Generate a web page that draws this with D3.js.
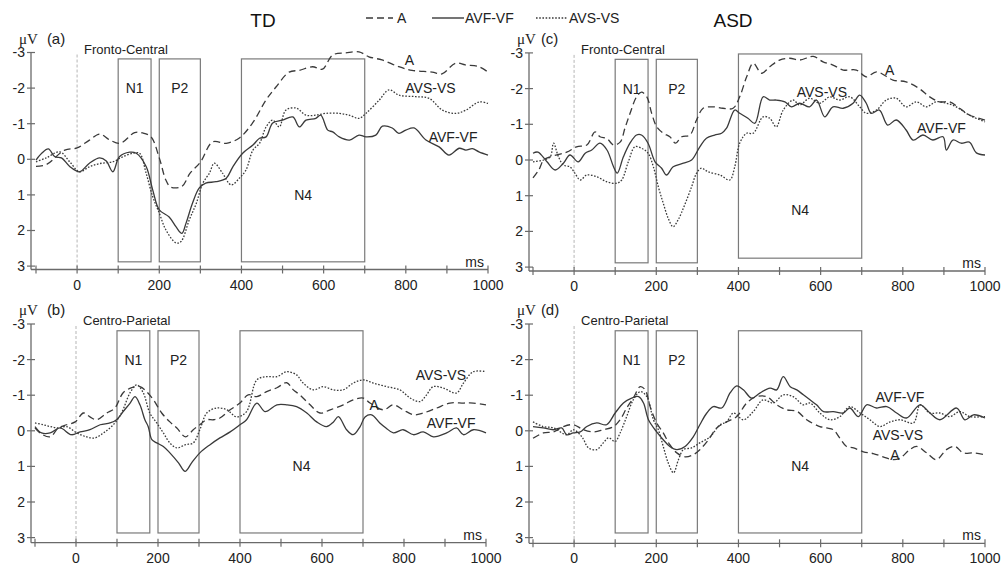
<!DOCTYPE html>
<html>
<head>
<meta charset="utf-8">
<script src="https://cdn.jsdelivr.net/npm/d3@7"></script>
<style>
  body { margin: 0; background: #fff; }
  svg { display: block; font-family: "Liberation Sans", Arial, sans-serif; }
</style>
</head>
<body>
<div id="chart"></div>
<script>
// ERP difference waves, [ms, uV] (negative plotted upward)
// (a) TD fronto-central
var tdFcA = [[-100,0.2],[-75,0.15],[-30,-0.26],[0,-0.32],[30,-0.54],[55,-0.71],[80,-0.54],[105,-0.45],[140,-0.75],[160,-0.74],[180,-0.63],[200,-0.04],[216,0.58],[228,0.78],[255,0.76],[275,0.39],[300,0.08],[330,-0.49],[363,-0.45],[395,-0.6],[427,-1.02],[460,-1.67],[484,-2.03],[516,-2.45],[541,-2.5],[573,-2.6],[597,-2.53],[622,-2.93],[654,-2.99],[686,-3.02],[710,-2.88],[742,-2.79],[783,-2.6],[815,-2.5],[864,-2.45],[888,-2.4],[921,-2.7],[945,-2.65],[978,-2.6],[1000,-2.45]];
var tdFcAVF = [[-100,0.02],[-86,-0.17],[-70,-0.29],[-54,-0.07],[-38,-0.04],[-18,0.2],[6,0.35],[30,0.11],[55,-0.04],[71,0.05],[87,0.35],[103,-0.07],[128,-0.2],[144,-0.17],[168,0.2],[184,0.86],[200,1.42],[224,1.62],[241,1.9],[255,2.08],[265,1.8],[281,1.23],[297,0.81],[313,0.67],[338,0.63],[363,0.53],[379,0.21],[403,-0.17],[428,-0.4],[444,-0.59],[460,-0.63],[476,-1.02],[500,-1.1],[525,-1.19],[541,-0.91],[557,-1.1],[581,-1.15],[593,-1.24],[610,-0.82],[622,-0.77],[638,-0.63],[663,-0.54],[686,-0.68],[703,-0.63],[727,-0.68],[743,-0.93],[767,-0.88],[783,-0.73],[800,-0.82],[820,-0.88],[849,-0.54],[881,-0.35],[905,-0.12],[930,-0.31],[946,-0.26],[962,-0.3],[978,-0.21],[1000,-0.12]];
var tdFcAVS = [[-100,0.07],[-75,-0.04],[-42,-0.21],[-18,0.07],[6,0.35],[30,0.21],[55,0.12],[87,0.07],[111,-0.07],[136,-0.17],[152,-0.17],[168,0.39],[184,1.05],[200,1.51],[216,1.98],[241,2.35],[253,2.31],[273,1.7],[290,1.24],[306,0.67],[322,0.39],[334,0.11],[354,0.39],[375,0.72],[395,0.53],[411,0.3],[428,-0.26],[444,-0.45],[460,-0.91],[476,-1.1],[492,-0.91],[508,-1.38],[533,-1.44],[557,-1.24],[581,-1.24],[605,-1.29],[638,-1.29],[662,-1.24],[686,-1.15],[703,-1.29],[735,-1.66],[759,-1.95],[784,-1.8],[824,-1.76],[857,-1.71],[889,-1.38],[921,-1.29],[946,-1.38],[978,-1.61],[1000,-1.57]];

// (b) TD centro-parietal
var tdCpA = [[-100,-0.08],[-88,0.06],[-63,0.17],[-43,-0.08],[-23,-0.17],[-2,-0.25],[18,-0.5],[34,-0.39],[50,-0.31],[75,-0.5],[95,-0.64],[115,-1.07],[136,-1.21],[156,-1.24],[172,-1.1],[189,-0.87],[209,-0.5],[229,-0.25],[246,-0.08],[267,0.17],[286,-0.03],[302,-0.17],[319,-0.31],[335,-0.31],[351,-0.36],[376,-0.59],[400,-0.78],[420,-1.01],[441,-0.96],[465,-1.1],[490,-1.21],[514,-1.35],[530,-1.15],[546,-1.01],[571,-0.73],[595,-0.5],[620,-0.59],[652,-0.73],[676,-0.87],[701,-0.92],[717,-0.78],[750,-0.59],[774,-0.73],[798,-0.59],[823,-0.45],[847,-0.5],[880,-0.64],[912,-0.78],[945,-0.78],[969,-0.78],[1000,-0.73]];
var tdCpAVF = [[-100,-0.12],[-84,0.06],[-63,0.06],[-39,-0.08],[-11,0.11],[10,0.03],[34,-0.03],[59,-0.17],[83,-0.22],[99,-0.31],[115,-0.54],[132,-0.78],[144,-0.96],[156,-0.73],[168,-0.31],[176,-0.12],[185,0.25],[197,0.34],[213,0.44],[229,0.62],[250,0.9],[266,1.14],[282,0.9],[302,0.62],[327,0.39],[351,0.2],[376,0.03],[400,-0.17],[416,-0.31],[441,-0.78],[461,-0.54],[490,-0.73],[514,-0.73],[538,-0.68],[563,-0.5],[587,-0.25],[611,-0.12],[628,-0.25],[640,-0.4],[660,-0.03],[676,0.11],[693,-0.12],[705,-0.39],[721,-0.45],[741,-0.22],[756,-0.08],[774,0.06],[798,-0.03],[823,0.11],[847,0.03],[872,0.17],[904,0.06],[928,-0.08],[945,0.11],[969,-0.03],[1000,0.06]];
var tdCpAVS = [[-100,-0.22],[-80,-0.17],[-63,-0.12],[-43,-0.08],[-23,-0.12],[2,0.06],[26,0.17],[46,0.2],[67,0.06],[91,-0.17],[111,-0.5],[132,-1.07],[148,-1.29],[164,-1.07],[180,-0.5],[197,-0.22],[213,0.06],[229,0.34],[246,0.48],[267,0.39],[286,0.34],[302,-0.03],[319,-0.5],[343,-0.64],[368,-0.59],[392,-0.39],[416,-0.54],[441,-1.43],[465,-1.52],[490,-1.52],[514,-1.66],[538,-1.57],[554,-1.34],[579,-1.15],[603,-1.24],[628,-1.15],[652,-1.15],[676,-1.34],[701,-1.43],[725,-1.34],[758,-1.24],[790,-1.15],[815,-0.92],[839,-0.82],[855,-1.01],[871,-1.24],[896,-1.2],[928,-1.06],[945,-1.34],[969,-1.66],[1000,-1.66]];

// (c) ASD fronto-central
var asdFcA = [[-100,0.5],[-86,0.28],[-74,0],[-58,-0.09],[-18,-0.22],[6,-0.37],[31,-0.42],[51,-0.79],[63,-0.65],[80,-0.6],[96,-0.42],[112,-0.5],[124,-0.9],[136,-1.3],[152,-1.77],[164,-1.9],[177,-1.77],[189,-1.3],[201,-0.93],[217,-0.75],[233,-0.65],[247,-0.47],[262,-0.65],[282,-0.7],[298,-1.12],[314,-1.45],[338,-1.49],[362,-1.45],[387,-1.45],[403,-1.77],[420,-2.33],[436,-2.71],[456,-2.43],[476,-2.61],[500,-2.8],[525,-2.85],[549,-2.8],[582,-2.9],[606,-2.75],[630,-2.66],[655,-2.52],[687,-2.52],[711,-2.33],[736,-2.47],[776,-2.24],[808,-2.19],[840,-2.0],[865,-1.77],[889,-1.63],[913,-1.63],[938,-1.45],[962,-1.26],[1000,-1.12]];
var asdFcAVF = [[-100,-0.19],[-88,-0.22],[-66,0.05],[-46,0.28],[-26,0.09],[-10,-0.14],[10,0.05],[27,-0.19],[43,-0.28],[63,-0.47],[80,-0.28],[96,0.19],[105,0.37],[120,-0.09],[136,-0.47],[152,-0.7],[164,-0.7],[180,-0.47],[197,0.05],[213,0.23],[225,0.42],[241,0.19],[266,0.09],[286,0],[306,-0.37],[322,-0.61],[342,-0.7],[359,-0.75],[371,-0.89],[391,-1.4],[403,-1.31],[423,-1.17],[440,-1.03],[460,-1.77],[476,-1.68],[492,-1.68],[513,-1.63],[529,-1.49],[549,-1.59],[573,-1.49],[590,-1.68],[610,-1.21],[630,-1.49],[655,-1.45],[679,-1.59],[695,-1.82],[711,-1.59],[723,-1.31],[743,-1.4],[763,-0.98],[784,-1.12],[808,-0.84],[825,-0.56],[849,-0.7],[873,-0.56],[898,-0.65],[906,-0.28],[922,-0.56],[942,-0.47],[962,-0.5],[979,-0.2],[1000,-0.14]];
var asdFcAVS = [[-100,0.05],[-74,0],[-58,-0.09],[-50,-0.47],[-38,-0.09],[-26,0.14],[-10,0.19],[2,0.37],[15,0.56],[31,0.42],[55,0.47],[80,0.61],[104,0.65],[116,0.56],[132,0.05],[148,-0.37],[164,-0.33],[180,-0.19],[193,0.19],[205,0.75],[217,1.21],[229,1.63],[241,1.87],[253,1.68],[269,1.26],[286,0.75],[298,0.37],[310,0.23],[326,0.33],[355,0.42],[379,0.56],[391,0.19],[403,-0.47],[420,-0.75],[436,-0.75],[460,-1.21],[476,-1.17],[492,-0.93],[509,-1.4],[533,-1.68],[549,-1.54],[573,-1.73],[598,-1.59],[622,-1.77],[646,-1.68],[671,-1.77],[695,-1.49],[711,-1.31],[736,-1.4],[760,-1.68],[784,-1.73],[808,-1.49],[833,-1.63],[857,-1.49],[881,-1.63],[906,-1.59],[930,-1.49],[954,-1.31],[970,-1.21],[1000,-1.07]];

// (d) ASD centro-parietal
var asdCpA = [[-100,0.21],[-75,0.06],[-50,0.03],[-26,-0.12],[-2,-0.17],[23,-0.03],[47,0.03],[71,-0.03],[96,-0.12],[112,-0.31],[128,-0.64],[144,-0.92],[161,-1.24],[173,-1.15],[185,-0.68],[201,-0.22],[217,0.06],[233,0.39],[250,0.62],[270,0.73],[290,0.67],[306,0.53],[327,0.25],[347,-0.08],[371,-0.25],[396,-0.4],[420,-0.78],[444,-0.96],[469,-0.96],[493,-0.73],[517,-0.59],[542,-0.55],[566,-0.31],[598,-0.12],[615,-0.08],[631,-0.03],[647,0.21],[663,0.44],[680,0.48],[704,0.59],[728,0.64],[752,0.73],[776,0.81],[793,0.77],[817,0.53],[834,0.44],[858,0.62],[882,0.81],[906,0.53],[927,0.44],[947,0.62],[972,0.62],[1000,0.67]];
var asdCpAVF = [[-100,-0.12],[-75,-0.08],[-50,-0.03],[-30,-0.08],[-18,0.11],[-2,0.06],[15,0.03],[31,-0.12],[55,-0.22],[79,-0.17],[100,-0.5],[120,-0.78],[140,-0.92],[157,-0.96],[169,-0.78],[181,-0.31],[201,0.03],[217,0.25],[233,0.44],[250,0.53],[270,0.44],[290,0.17],[306,-0.17],[323,-0.5],[339,-0.68],[359,-0.64],[380,-1.07],[396,-1.26],[412,-1.15],[432,-0.92],[452,-1.06],[477,-1.2],[493,-1.15],[509,-1.52],[526,-1.24],[542,-1.15],[558,-1.01],[574,-0.87],[590,-0.73],[607,-0.54],[631,-0.54],[655,-0.5],[671,-0.64],[692,-0.4],[712,-0.73],[736,-0.64],[761,-0.68],[785,-0.5],[809,-0.36],[842,-0.73],[866,-0.5],[890,-0.31],[931,-0.64],[951,-0.31],[972,-0.45],[1000,-0.36]];
var asdCpAVS = [[-100,-0.25],[-75,-0.12],[-50,-0.08],[-18,0.11],[-2,-0.03],[19,0.17],[35,0.48],[55,0.53],[71,0.34],[84,0.2],[100,0.3],[112,0.06],[128,-0.4],[144,-0.87],[161,-1.1],[177,-0.96],[193,-0.31],[205,-0.03],[217,0.44],[229,0.9],[242,1.18],[254,0.81],[266,0.53],[286,0.48],[306,0.34],[331,0.17],[355,-0.17],[371,-0.25],[388,-0.5],[412,-0.31],[436,-0.54],[460,-0.87],[485,-0.78],[509,-1.01],[533,-0.96],[558,-0.73],[574,-0.78],[598,-0.5],[623,-0.31],[647,-0.4],[671,-0.68],[696,-0.5],[720,-0.31],[744,-0.12],[769,-0.25],[793,-0.31],[826,-0.22],[842,-0.73],[866,-0.5],[890,-0.5],[914,-0.4],[939,-0.54],[963,-0.4],[1000,-0.4]];

// analysis windows (ms)
var windowNames = ["N1", "P2", "N4"];
var windowStart = [100, 200, 400];
var windowEnd = [180, 300, 700];

var xTicks = [-100, 0, 100, 200, 300, 400, 500, 600, 700, 800, 900, 1000];
var xTickLabels = [0, 200, 400, 600, 800, 1000];
var yTicks = [-3, -2, -1, 0, 1, 2, 3];

var conds = ["A", "AVF-VF", "AVS-VS"];
var dashes = {"A": "7,4", "AVF-VF": null, "AVS-VS": "1.6,1.6"};

var W = 1007, H = 565;
var svg = d3.select("#chart").append("svg").attr("width", W).attr("height", H);
svg.append("rect").attr("width", W).attr("height", H).attr("fill", "#fff");

var ink = "#3a3a3a", boxCol = "#7a7a7a", axisCol = "#6a6a6a";

// panel layout
var panels = [
  {tag: "(a)", region: "Fronto-Central", series: [tdFcA, tdFcAVF, tdFcAVS],
   ax: 31, x0: 36, x1: 488, yTop: 52.5, yBot: 266.1, axisY: 269.5,
   boxTop: [-2.82, -2.82, -2.82], boxBot: [2.88, 2.88, 2.88], n4y: 1.0,
   labels: [["A", 809, -2.79], ["AVS-VS", 860, -2.0], ["AVF-VF", 915, -0.63]]},
  {tag: "(b)", region: "Centro-Parietal", series: [tdCpA, tdCpAVF, tdCpAVS],
   ax: 31, x0: 35, x1: 486, yTop: 324, yBot: 537.6, axisY: 542.7,
   boxTop: [-2.81, -2.81, -2.81], boxBot: [2.87, 2.87, 2.87], n4y: 1.0,
   labels: [["AVS-VS", 890, -1.57], ["A", 727, -0.73], ["AVF-VF", 915, -0.22]]},
  {tag: "(c)", region: "Fronto-Central", series: [asdFcA, asdFcAVF, asdFcAVS],
   ax: 529, x0: 533, x1: 985, yTop: 52.9, yBot: 267.1, axisY: 271,
   boxTop: [-2.82, -2.82, -2.97], boxBot: [2.88, 2.88, 2.75], n4y: 1.4,
   labels: [["A", 768, -2.52], ["AVS-VS", 603, -1.9], ["AVF-VF", 894, -0.9]]},
  {tag: "(d)", region: "Centro-Parietal", series: [asdCpA, asdCpAVF, asdCpAVS],
   ax: 529, x0: 533, x1: 985, yTop: 324, yBot: 537.6, axisY: 543.3,
   boxTop: [-2.81, -2.81, -2.81], boxBot: [2.87, 2.87, 2.87], n4y: 1.0,
   labels: [["AVF-VF", 793, -0.96], ["AVS-VS", 788, 0.11], ["A", 781, 0.67]]}
];

panels.forEach(function(p) {
  var x = d3.scaleLinear().domain([-100, 1000]).range([p.x0, p.x1]);
  var y = d3.scaleLinear().domain([-3, 3]).range([p.yTop, p.yBot]);
  var g = svg.append("g");

  // stimulus onset
  g.append("line")
    .attr("x1", x(0)).attr("x2", x(0))
    .attr("y1", p.yTop + 2).attr("y2", p.axisY)
    .attr("stroke", "#b5b5b5").attr("stroke-width", 1)
    .attr("stroke-dasharray", "3,2");

  // windows
  windowNames.forEach(function(n, i) {
    g.append("rect")
      .attr("x", x(windowStart[i])).attr("y", y(p.boxTop[i]))
      .attr("width", x(windowEnd[i]) - x(windowStart[i]))
      .attr("height", y(p.boxBot[i]) - y(p.boxTop[i]))
      .attr("fill", "none").attr("stroke", boxCol).attr("stroke-width", 1.2);
    g.append("text")
      .attr("x", (x(windowStart[i]) + x(windowEnd[i])) / 2)
      .attr("y", i < 2 ? y(-2) : y(p.n4y))
      .attr("dy", "0.35em")
      .attr("text-anchor", "middle")
      .attr("font-size", 14).attr("fill", "#222")
      .text(n);
  });

  // axes
  g.append("line").attr("x1", p.ax).attr("x2", p.ax)
    .attr("y1", y(-3)).attr("y2", p.axisY)
    .attr("stroke", axisCol).attr("stroke-width", 1.3);
  g.append("line").attr("x1", p.ax).attr("x2", x(1000))
    .attr("y1", p.axisY).attr("y2", p.axisY)
    .attr("stroke", axisCol).attr("stroke-width", 1.3);

  yTicks.forEach(function(t) {
    g.append("line").attr("x1", p.ax - 4).attr("x2", p.ax + 4)
      .attr("y1", y(t)).attr("y2", y(t))
      .attr("stroke", axisCol).attr("stroke-width", 1.2);
    g.append("text").attr("x", p.ax - 6).attr("y", y(t)).attr("dy", "0.35em")
      .attr("text-anchor", "end").attr("font-size", 14).attr("fill", "#222")
      .text(t);
  });
  xTicks.forEach(function(t) {
    g.append("line").attr("x1", x(t)).attr("x2", x(t))
      .attr("y1", p.axisY - 4).attr("y2", p.axisY + 4)
      .attr("stroke", axisCol).attr("stroke-width", 1.2);
  });
  xTickLabels.forEach(function(t) {
    g.append("text").attr("x", x(t)).attr("y", p.axisY + 20)
      .attr("text-anchor", "middle").attr("font-size", 14).attr("fill", "#222")
      .text(t);
  });
  g.append("text").attr("x", x(1000) - 4).attr("y", p.axisY - 3)
    .attr("text-anchor", "end").attr("font-size", 14).attr("fill", "#222").text("ms");

  // uV + panel tag
  var lab = g.append("text").attr("x", p.ax - 12).attr("y", y(-3) - 9)
    .attr("font-size", 15).attr("fill", "#222");
  lab.append("tspan").attr("font-family", "Liberation Serif, serif").text("\u03bcV");
  lab.append("tspan").attr("dx", p.tag === "(a)" || p.tag === "(b)" ? 9 : 5).text(p.tag);

  g.append("text").attr("x", x(0) + 7).attr("y", y(-3) + 1)
    .attr("font-size", 13).attr("fill", "#222").text(p.region);

  // waves
  var line = d3.line()
    .x(function(d) { return x(d[0]); })
    .y(function(d) { return y(d[1]); })
    .curve(d3.curveCatmullRom.alpha(0.5));
  p.series.forEach(function(s, i) {
    g.append("path").datum(s)
      .attr("d", line)
      .attr("fill", "none").attr("stroke", ink)
      .attr("stroke-width", conds[i] === "AVS-VS" ? 1.3 : 1.3)
      .attr("stroke-dasharray", dashes[conds[i]]);
  });

  p.labels.forEach(function(l) {
    g.append("text").attr("x", x(l[1])).attr("y", y(l[2])).attr("dy", "0.35em")
      .attr("text-anchor", "middle").attr("font-size", 14).attr("fill", "#222")
      .text(l[0]);
  });
});

// group titles
svg.append("text").attr("x", 263).attr("y", 27).attr("text-anchor", "middle")
  .attr("font-size", 19).attr("fill", "#111").text("TD");
svg.append("text").attr("x", 733).attr("y", 27).attr("text-anchor", "middle")
  .attr("font-size", 19).attr("fill", "#111").text("ASD");

// legend
var legX = [366, 432, 536];
conds.forEach(function(c, i) {
  svg.append("line").attr("x1", legX[i]).attr("x2", legX[i] + (i === 0 ? 27 : 32))
    .attr("y1", 18).attr("y2", 18)
    .attr("stroke", ink).attr("stroke-width", 1.4)
    .attr("stroke-dasharray", dashes[c]);
  svg.append("text").attr("x", legX[i] + (i === 0 ? 31 : 33)).attr("y", 18).attr("dy", "0.35em")
    .attr("font-size", 14).attr("fill", "#222").text(c);
});
</script>
</body>
</html>
